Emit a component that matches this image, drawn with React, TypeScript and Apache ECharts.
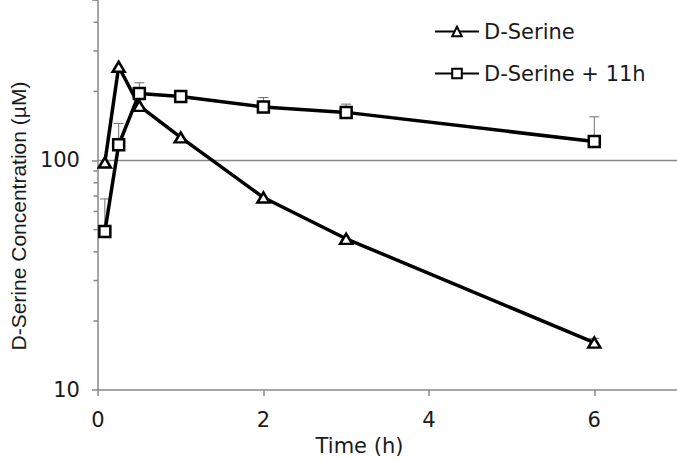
import React, { useEffect, useRef } from "react";
import * as echarts from "echarts";

const timeH = [0.083, 0.25, 0.5, 1, 2, 3, 6];
const dSerine = [98, 256, 173, 126, 69, 45.6, 16.1];
const dSerine11h = [49, 117, 196, 190, 171, 162, 121];
// upper error bar ends: [time, mean, upper]
const dSerineErr: [number, number, number][] = [[6, 16.1, 16.8]];
const dSerine11hErr: [number, number, number][] = [
  [0.083, 49, 68],
  [0.25, 117, 145],
  [0.5, 196, 218],
  [2, 171, 188],
  [3, 162, 176],
  [6, 121, 155],
];
const minorTickValues = [20, 30, 40, 50, 60, 70, 80, 90, 200, 300, 400, 500];
const gridValues = [100];

const FONT_H = "'DejaVu Sans', 'Liberation Sans', Arial, sans-serif";
const FONT_V = "'Liberation Sans', Arial, sans-serif";
const TEXT = "#1a1a1a";
const AXIS = "#888888";

export default function App() {
  const ref = useRef<HTMLDivElement>(null);
  useEffect(() => {
    document.body.style.margin = "0";
    const chart = echarts.init(ref.current!, null, { renderer: "svg" });
    const isPow10 = (v: number) =>
      Math.abs(Math.log10(v) - Math.round(Math.log10(v))) < 1e-6;
    chart.setOption({
      animation: false,
      textStyle: { fontFamily: FONT_H },
      grid: { left: 87, right: 0, top: 0, bottom: 63 },
      legend: {
        data: ["D-Serine", "D-Serine + 11h"],
        orient: "vertical",
        left: 429,
        top: 16,
        itemWidth: 44,
        itemHeight: 12,
        itemGap: 21,
        textStyle: { fontSize: 21, color: TEXT, fontFamily: FONT_H },
      },
      xAxis: {
        type: "value",
        min: 0,
        max: 7,
        interval: 2,
        name: "Time (h)",
        nameLocation: "middle",
        nameGap: 34,
        nameTextStyle: { fontSize: 21, color: TEXT, fontFamily: FONT_H, padding: [0, 56, 0, 0] },
        axisLine: { lineStyle: { color: AXIS, width: 1.5 } },
        axisTick: { show: true, length: 6, lineStyle: { color: AXIS, width: 1.5 } },
        axisLabel: { fontSize: 21, color: TEXT, fontFamily: FONT_H, margin: 19, showMaxLabel: false },
        splitLine: { show: false },
      },
      yAxis: {
        type: "log",
        logBase: 10,
        min: 10,
        max: 500,
        name: "D-Serine Concentration (µM)",
        nameLocation: "middle",
        nameGap: 62,
        nameTextStyle: { fontSize: 21, color: TEXT, fontFamily: FONT_V, padding: [0, 42, 0, 0] },
        axisLine: { show: true, lineStyle: { color: AXIS, width: 1.5 } },
        axisTick: { show: true, length: 6, lineStyle: { color: AXIS, width: 1.5 } },
        axisLabel: {
          fontSize: 21,
          color: TEXT,
          fontFamily: FONT_H,
          margin: 18,
          formatter: (v: number) => (isPow10(v) ? String(Math.round(v)) : ""),
        },
        splitLine: { show: false },
      },
      series: [
        {
          type: "custom",
          name: "grid",
          silent: true,
          z: 0,
          clip: false,
          data: gridValues.map((v) => [0, v]),
          renderItem: (params: any, api: any) => {
            const v = api.value(1);
            const a = api.coord([0, v]);
            const b = api.coord([7, v]);
            return {
              type: "line",
              shape: { x1: a[0], y1: a[1], x2: b[0], y2: b[1] },
              style: { stroke: AXIS, lineWidth: 1.5 },
            };
          },
        },
        {
          type: "custom",
          name: "minorTicks",
          silent: true,
          z: 0,
          clip: false,
          data: minorTickValues.map((v) => [0, v]),
          renderItem: (params: any, api: any) => {
            const a = api.coord([0, api.value(1)]);
            return {
              type: "line",
              shape: { x1: a[0] - 4.5, y1: a[1], x2: a[0], y2: a[1] },
              style: { stroke: AXIS, lineWidth: 1.5 },
            };
          },
        },
        {
          type: "custom",
          name: "errors",
          silent: true,
          z: 1,
          clip: false,
          data: [...dSerineErr, ...dSerine11hErr],
          renderItem: (params: any, api: any) => {
            const p = api.coord([api.value(0), api.value(1)]);
            const q = api.coord([api.value(0), api.value(2)]);
            return {
              type: "group",
              children: [
                {
                  type: "line",
                  shape: { x1: p[0], y1: p[1], x2: q[0], y2: q[1] },
                  style: { stroke: "#6f6f6f", lineWidth: 1 },
                },
                {
                  type: "line",
                  shape: { x1: q[0] - 5, y1: q[1], x2: q[0] + 5, y2: q[1] },
                  style: { stroke: "#6f6f6f", lineWidth: 1 },
                },
              ],
            };
          },
        },
        {
          type: "line",
          name: "D-Serine",
          z: 3,
          data: timeH.map((t, i) => [t, dSerine[i]]),
          symbol: "triangle",
          symbolSize: [12, 10],
          showAllSymbol: true,
          lineStyle: { color: "#000", width: 3.5 },
          itemStyle: { color: "#fff", borderColor: "#000", borderWidth: 2.5 },
        },
        {
          type: "line",
          name: "D-Serine + 11h",
          z: 3,
          data: timeH.map((t, i) => [t, dSerine11h[i]]),
          symbol: "rect",
          symbolSize: 11,
          showAllSymbol: true,
          lineStyle: { color: "#000", width: 3.5 },
          itemStyle: { color: "#fff", borderColor: "#000", borderWidth: 2.5 },
        },
      ],
    });
    return () => chart.dispose();
  }, []);
  return <div ref={ref} style={{ width: 677, height: 461 }} />;
}
